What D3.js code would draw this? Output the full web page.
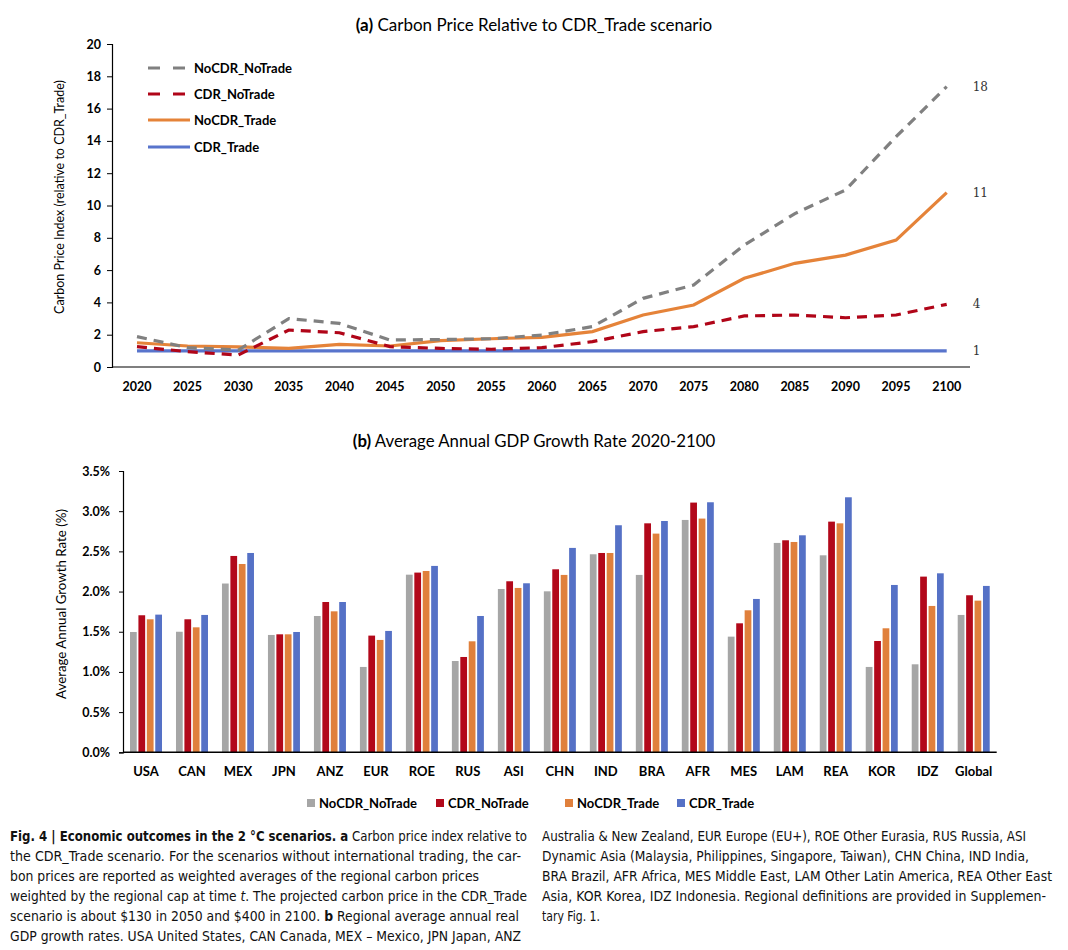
<!DOCTYPE html>
<html>
<head>
<meta charset="utf-8">
<script src="https://cdn.jsdelivr.net/npm/d3@7"></script>
<style>
  body { margin: 0; background: #fff; }
  svg { display: block; }
  .chart text { font-family: Lato, "Open Sans", sans-serif; fill: #000; }
  .caption text { font-family: "Liberation Sans Narrow", "DejaVu Sans Condensed", "Open Sans", sans-serif; font-stretch: condensed; fill: #111; }
</style>
</head>
<body>
<svg id="fig" width="1068" height="950"></svg>
<script>
// ---- panel (a) data ----
var years = [2020, 2025, 2030, 2035, 2040, 2045, 2050, 2055, 2060, 2065, 2070, 2075, 2080, 2085, 2090, 2095, 2100];
var nocdrNotrade = [1.88, 1.2, 1.05, 3.0, 2.7, 1.67, 1.7, 1.75, 1.98, 2.5, 4.25, 5.08, 7.55, 9.5, 10.96, 14.26, 17.36];
var cdrNotrade   = [1.26, 0.95, 0.74, 2.29, 2.12, 1.26, 1.15, 1.1, 1.2, 1.57, 2.19, 2.5, 3.16, 3.22, 3.05, 3.22, 3.88];
var nocdrTrade   = [1.5, 1.3, 1.25, 1.15, 1.4, 1.3, 1.63, 1.75, 1.84, 2.19, 3.22, 3.84, 5.49, 6.42, 6.93, 7.86, 10.8];
var cdrTrade     = [1, 1, 1, 1, 1, 1, 1, 1, 1, 1, 1, 1, 1, 1, 1, 1, 1];
var endLabels = ["18", "4", "11", "1"];
var yTicksA = [0, 2, 4, 6, 8, 10, 12, 14, 16, 18, 20];

// ---- panel (b) data ----
var regions = ["USA", "CAN", "MEX", "JPN", "ANZ", "EUR", "ROE", "RUS", "ASI", "CHN", "IND", "BRA", "AFR", "MES", "LAM", "REA", "KOR", "IDZ", "Global"];
var gdpNocdrNotrade = [1.497, 1.50, 2.10, 1.46, 1.696, 1.062, 2.21, 1.136, 2.032, 2.003, 2.464, 2.207, 2.891, 1.439, 2.605, 2.451, 1.062, 1.095, 1.709];
var gdpCdrNotrade   = [1.705, 1.655, 2.443, 1.468, 1.87, 1.452, 2.236, 1.186, 2.128, 2.277, 2.48, 2.849, 3.107, 1.605, 2.638, 2.87, 1.385, 2.186, 1.954];
var gdpNocdrTrade   = [1.655, 1.555, 2.343, 1.468, 1.754, 1.398, 2.256, 1.381, 2.045, 2.207, 2.48, 2.721, 2.908, 1.767, 2.617, 2.849, 1.543, 1.821, 1.887];
var gdpCdrTrade     = [1.713, 1.709, 2.48, 1.497, 1.87, 1.51, 2.319, 1.696, 2.103, 2.543, 2.825, 2.878, 3.111, 1.908, 2.70, 3.173, 2.082, 2.227, 2.07];
var yTicksB = [0, 0.5, 1.0, 1.5, 2.0, 2.5, 3.0, 3.5];

var seriesNames = ["NoCDR_NoTrade", "CDR_NoTrade", "NoCDR_Trade", "CDR_Trade"];

var svg = d3.select("#fig");
svg.append("rect").attr("width", 1068).attr("height", 950).attr("fill", "#fff");
var g = svg.append("g").attr("class", "chart");

// ================= (a) lines =================
var xA = d3.scaleLinear().domain([2020, 2100]).range([137, 946.7]);
var yA = d3.scaleLinear().domain([0, 20]).range([367, 44]);

var lineSeries = [
  {name: "NoCDR_NoTrade", values: nocdrNotrade, color: "#808080", dash: "10,7"},
  {name: "CDR_NoTrade", values: cdrNotrade, color: "#B00518", dash: "10,7"},
  {name: "NoCDR_Trade", values: nocdrTrade, color: "#E58339", dash: null},
  {name: "CDR_Trade", values: cdrTrade, color: "#5874CC", dash: null}
];

g.append("text").attr("x", 534).attr("y", 31).attr("text-anchor", "middle")
  .style("font-size", "17px")
  .call(t => { t.append("tspan").style("font-weight", 700).text("(a)"); t.append("tspan").text(" Carbon Price Relative to CDR_Trade scenario"); });

var yAxisA = g.append("g").attr("transform", "translate(112,0)")
  .call(d3.axisLeft(yA).tickValues(yTicksA).tickSize(5).tickPadding(6));
yAxisA.select(".domain").attr("stroke", "#000").attr("stroke-width", 1.2);
yAxisA.selectAll("text").style("font-size", "12.5px").style("font-weight", 700).style("font-family", "Lato, sans-serif");

g.append("line").attr("x1", 112).attr("x2", 970).attr("y1", 367).attr("y2", 367).attr("stroke", "#000").attr("stroke-width", 1.2);
g.selectAll(".xa").data(years).join("text").attr("class", "xa")
  .attr("x", d => xA(d)).attr("y", 391).attr("text-anchor", "middle")
  .style("font-size", "12.5px").style("font-weight", 700).text(d => d);

g.append("text").attr("transform", "translate(64,197) rotate(-90)").attr("text-anchor", "middle")
  .style("font-size", "12.5px").text("Carbon Price Index (relative to CDR_Trade)");

var line = d3.line().x((d, i) => xA(years[i])).y(d => yA(d));
lineSeries.slice().reverse().forEach(s => {
  g.append("path").datum(s.values).attr("d", line).attr("fill", "none")
    .attr("stroke", s.color).attr("stroke-width", 3.2)
    .attr("stroke-dasharray", s.dash);
});

// end labels
var lastVals = [nocdrNotrade, cdrNotrade, nocdrTrade, cdrTrade].map(v => v[v.length - 1]);
g.selectAll(".endlab").data(lastVals).join("text").attr("class", "endlab")
  .attr("x", xA(2100) + 26).attr("y", d => yA(d) + 4)
  .style("font-family", "'DejaVu Serif', 'Liberation Serif', serif").style("font-size", "12px").style("fill", "#333")
  .text((d, i) => endLabels[i]);

// legend (a)
var legA = g.selectAll(".lega").data(lineSeries).join("g").attr("class", "lega")
  .attr("transform", (d, i) => `translate(148,${[68, 94, 120, 147][i]})`);
legA.append("line").attr("x1", 0).attr("x2", d => d.dash ? 40 : 42).attr("y1", 0).attr("y2", 0)
  .attr("stroke", d => d.color).attr("stroke-width", 3.2)
  .attr("stroke-dasharray", d => d.dash ? "12,13" : null);
legA.append("text").attr("x", 46).attr("y", 4.5).style("font-size", "13px").style("font-weight", 700).text(d => d.name);

// ================= (b) bars =================
var barColors = ["#A6A6A6", "#B2081A", "#E0803C", "#5571C6"];
var gdpSeries = [gdpNocdrNotrade, gdpCdrNotrade, gdpNocdrTrade, gdpCdrTrade];

var x0 = d3.scaleBand().domain(regions).range([123, 996.7]);
var x1 = d3.scaleBand().domain(seriesNames).range([7, 39]).paddingInner(0.2);
var yB = d3.scaleLinear().domain([0, 3.5]).range([752.3, 471]);

g.append("text").attr("x", 534).attr("y", 447).attr("text-anchor", "middle")
  .style("font-size", "16.8px")
  .call(t => { t.append("tspan").style("font-weight", 700).text("(b)"); t.append("tspan").text(" Average Annual GDP Growth Rate 2020-2100"); });

var yAxisB = g.append("g").attr("transform", "translate(123,0)")
  .call(d3.axisLeft(yB).tickValues(yTicksB).tickSize(4).tickPadding(9).tickFormat(d => d.toFixed(1) + "%"));
yAxisB.select(".domain").attr("stroke", "#000").attr("stroke-width", 1.2);
yAxisB.selectAll("text").style("font-size", "12.5px").style("font-weight", 700).style("font-family", "Lato, sans-serif");

g.append("text").attr("transform", "translate(66,604) rotate(-90)").attr("text-anchor", "middle")
  .style("font-size", "13.3px").text("Average Annual Growth Rate (%)");

var groups = g.selectAll(".grp").data(regions).join("g").attr("class", "grp")
  .attr("transform", d => `translate(${x0(d)},0)`);
groups.selectAll("rect").data((r, ri) => seriesNames.map((s, si) => ({s: s, si: si, v: gdpSeries[si][ri]})))
  .join("rect")
  .attr("x", d => x1(d.s)).attr("width", x1.bandwidth())
  .attr("y", d => yB(d.v)).attr("height", d => yB(0) - yB(d.v))
  .attr("fill", d => barColors[d.si]);

g.append("line").attr("x1", 123).attr("x2", 996.7).attr("y1", 752.3).attr("y2", 752.3).attr("stroke", "#000").attr("stroke-width", 1.5);
g.selectAll(".xb").data(regions).join("text").attr("class", "xb")
  .attr("x", d => x0(d) + x0.bandwidth() / 2).attr("y", 776).attr("text-anchor", "middle")
  .style("font-size", "13px").style("font-weight", 700).text(d => d);

// legend (b)
var legBx = [307, 436, 565, 677];
var legB = g.selectAll(".legb").data(seriesNames).join("g").attr("class", "legb")
  .attr("transform", (d, i) => `translate(${legBx[i]},799)`);
legB.append("rect").attr("width", 8).attr("height", 8).attr("fill", (d, i) => barColors[i]);
legB.append("text").attr("x", 12).attr("y", 8.5).style("font-size", "13px").style("font-weight", 700).text(d => d);

// ================= caption =================
var cap = svg.append("g").attr("class", "caption");
var leftLines = [
  [["b", "Fig. 4 | Economic outcomes in the 2 °C scenarios. a"], ["n", " Carbon price index relative to"]],
  [["n", "the CDR_Trade scenario. For the scenarios without international trading, the car-"]],
  [["n", "bon prices are reported as weighted averages of the regional carbon prices"]],
  [["n", "weighted by the regional cap at time "], ["i", "t"], ["n", ". The projected carbon price in the CDR_Trade"]],
  [["n", "scenario is about $130 in 2050 and $400 in 2100. "], ["b", "b"], ["n", " Regional average annual real"]],
  [["n", "GDP growth rates. USA United States, CAN Canada, MEX – Mexico, JPN Japan, ANZ"]]
];
var leftEnds = [527, 521, 479, 527, 519, 521];
var rightLines = [
  [["n", "Australia & New Zealand, EUR Europe (EU+), ROE Other Eurasia, RUS Russia, ASI"]],
  [["n", "Dynamic Asia (Malaysia, Philippines, Singapore, Taiwan), CHN China, IND India,"]],
  [["n", "BRA Brazil, AFR Africa, MES Middle East, LAM Other Latin America, REA Other East"]],
  [["n", "Asia, KOR Korea, IDZ Indonesia. Regional definitions are provided in Supplemen-"]],
  [["n", "tary Fig. 1."]]
];
var rightEnds = [1026, 1029, 1052, 1046, 600];

function capLine(parts, x, y, end) {
  var t = cap.append("text").attr("x", x).attr("y", y).style("font-size", "13.5px")
    .attr("textLength", end - x).attr("lengthAdjust", "spacingAndGlyphs");
  parts.forEach(p => {
    var s = t.append("tspan").text(p[1]);
    if (p[0] === "b") s.style("font-weight", 700);
    if (p[0] === "i") s.style("font-style", "italic");
  });
}
leftLines.forEach((l, i) => capLine(l, 10, 841 + i * 20, leftEnds[i]));
rightLines.forEach((l, i) => capLine(l, 542, 841 + i * 20, rightEnds[i]));
</script>
</body>
</html>
